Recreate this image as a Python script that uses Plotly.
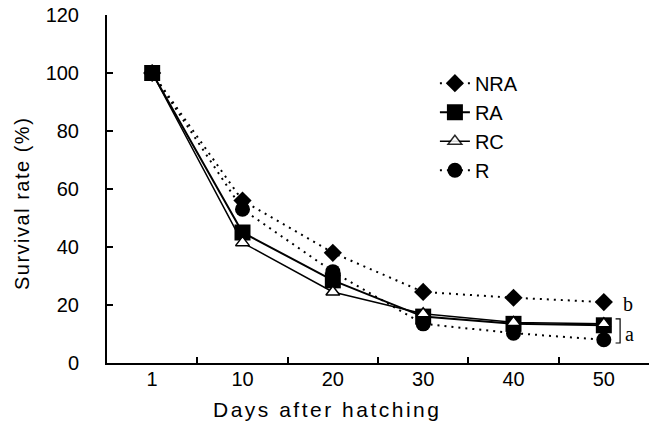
import plotly.graph_objects as go

days = ["1", "10", "20", "30", "40", "50"]
nra = [100, 56, 38, 24.5, 22.5, 21]
ra = [100, 45, 28.5, 16, 13.5, 13]
rc = [100, 41.5, 24.5, 17, 14, 13.5]
r = [100, 53, 31.5, 13.5, 10.3, 8]

y_ticks = [0, 20, 40, 60, 80, 100, 120]

FONT = "Liberation Sans"
BLACK = "#000000"

fig = go.Figure()

fig.add_trace(go.Scatter(
    x=days, y=nra, name="NRA", mode="lines+markers", legendrank=1,
    line=dict(color=BLACK, width=2, dash="2px,5px"),
    marker=dict(symbol="diamond", size=14, color=BLACK),
))
fig.add_trace(go.Scatter(
    x=days, y=r, name="R", mode="lines+markers", legendrank=4,
    line=dict(color=BLACK, width=2, dash="2px,5px"),
    marker=dict(symbol="circle", size=15, color=BLACK),
))
fig.add_trace(go.Scatter(
    x=days, y=ra, name="RA", mode="lines+markers", legendrank=2,
    line=dict(color=BLACK, width=2),
    marker=dict(symbol="square", size=16, color=BLACK),
))
fig.add_trace(go.Scatter(
    x=days, y=rc, name="RC", mode="lines+markers", legendrank=3,
    line=dict(color=BLACK, width=1.5),
    marker=dict(symbol="triangle-up", size=12, color="white",
                line=dict(color=BLACK, width=1.5),
                opacity=[0, 1, 1, 1, 1, 1]),
))

fig.update_layout(
    width=659, height=432,
    margin=dict(l=107, r=10, t=15, b=69),
    paper_bgcolor="white", plot_bgcolor="white",
    font=dict(family=FONT, size=20, color=BLACK),
    showlegend=True,
    legend=dict(x=0.605, y=0.86, xanchor="left", yanchor="top",
                bgcolor="rgba(0,0,0,0)", font=dict(size=20),
                itemwidth=30, tracegroupgap=0),
    xaxis=dict(type="category", range=[-0.5, 5.5], showline=True,
               linecolor=BLACK, linewidth=2, ticks="inside", ticklen=6,
               tickwidth=2, tickcolor=BLACK, tickson="boundaries",
               showgrid=False, zeroline=False, ticklabelstandoff=-3,
               automargin=False),
    yaxis=dict(range=[0, 120], tickvals=y_ticks, showline=True,
               linecolor=BLACK, linewidth=2, ticks="inside", ticklen=6,
               tickwidth=2, tickcolor=BLACK, showgrid=False, zeroline=False,
               ticklabelstandoff=22, automargin=False),
    annotations=[
        dict(text='<span style="letter-spacing:2.5px">Days after hatching</span>',
             xref="paper", yref="paper", x=(327 - 107) / 542, y=-0.135,
             xanchor="center", yanchor="middle", showarrow=False,
             font=dict(size=21)),
        dict(text='<span style="letter-spacing:1.5px">Survival rate (%)</span>',
             xref="paper", yref="paper", x=(22 - 107) / 542, y=(363 - 204) / 348,
             xanchor="center", yanchor="middle", showarrow=False, textangle=-90,
             font=dict(size=20)),
        dict(text="b", xref="x", yref="y", x=5.27, y=20.5, xanchor="center",
             yanchor="middle", showarrow=False,
             font=dict(family="Liberation Serif", size=20)),
        dict(text="a", xref="x", yref="y", x=5.28, y=10.0, xanchor="center",
             yanchor="middle", showarrow=False,
             font=dict(family="Liberation Serif", size=20)),
    ],
    shapes=[
        dict(type="path", xref="x", yref="y",
             path="M 5.13 15.2 L 5.18 15.2 L 5.18 6.9 L 5.13 6.9",
             line=dict(color=BLACK, width=1.2)),
    ],
)

fig.write_html("out.html", config={"displayModeBar": False},
               post_script="document.body.style.margin='0';")
